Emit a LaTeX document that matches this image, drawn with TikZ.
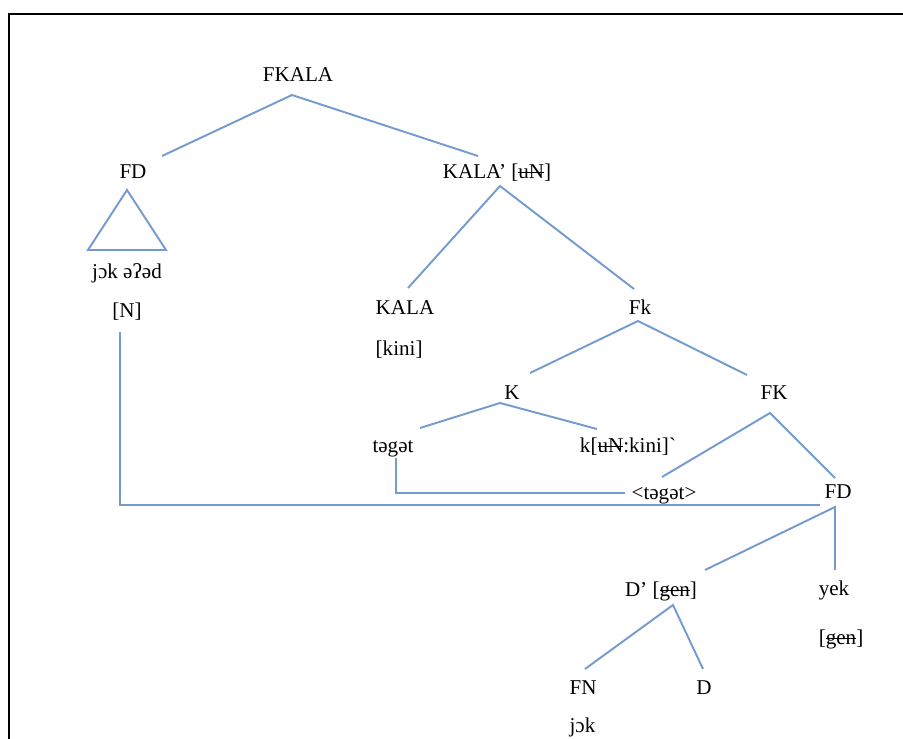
\documentclass[tikz,border=0pt]{standalone}
\usepackage{fontspec}
\setmainfont{Liberation Serif}
\usetikzlibrary{positioning}
\usetikzlibrary{calc}
\definecolor{branch}{RGB}{116,155,208}
\newcommand{\strk}[1]{\setbox0\hbox{#1}\rlap{\raisebox{0.28em}{\rule{\wd0}{0.55pt}}}\box0}
\begin{document}
\begin{tikzpicture}[x=0.02cm, y=-0.02cm,
        lbl/.style={font=\fontsize{12}{14}\selectfont, inner sep=4pt, text height=8pt, text depth=2.5pt},
        edge/.style={draw=branch, line width=1.1pt}]
        \useasboundingbox (0,0) rectangle (903,739);
        \clip (0,0) rectangle (903,739);
        \draw[line width=1.2pt] (9,760) -- (9,14) -- (920,14);

        \node[lbl] (fkala) at (298,77) {FKALA};
        \node[lbl] (fd) at (133,174) {FD};
        \node[lbl] (kalabar) at (497,174) {KALA’ [\strk{uN}]};
        \node[lbl] (jokead) at (127,274) {jɔk əʔəd};
        \node[lbl, below=3pt of jokead] (n) {[N]};
        \node[lbl] (kala) at (405,310) {KALA};
        \node[lbl, below right=4pt and 0pt of kala.south west] (kini) {[kini]};
        \node[lbl] (fk) at (640,310) {Fk};
        \node[lbl] (k) at (512,395) {K};
        \node[lbl] (fkk) at (774,395) {FK};
        \node[lbl] (tgt) at (393,448) {təgət};
        \node[lbl] (kcomp) at (628,448) {k[\strk{uN}:kini]\textasciigrave};
        \node[lbl] (tgttrace) at (664,495) {<təgət>};
        \node[lbl] (fdlow) at (838,494) {FD};
        \node[lbl] (dbar) at (661,592) {D’ [\strk{gen}]};
        \node[lbl] (yek) at (834,591) {yek};
        \node[lbl, below right=9pt and 0pt of yek.south west] (gen) {[\strk{gen}]};
        \node[lbl] (fn) at (583,690) {FN};
        \node[lbl] (d) at (704,690) {D};
        \node[lbl, below right=2.5pt and 0pt of fn.south west] (jok) {jɔk};

        % branches
        \draw[edge] ($(fd)+(29,-18)$) -- ($(fkala)+(-6,18)$) -- ($(kalabar)+(-19,-18)$);
        \draw[edge] ($(fd)+(-6,16)$) -- ++(-39,60) -- ++(78,0) -- cycle;
        \draw[edge] ($(kala)+(3,-22)$) -- ($(kalabar)+(3,12)$) -- ($(fk)+(-6,-21)$);
        \draw[edge] ($(k)+(18,-22)$) -- ($(fk)+(-2,11)$) -- ($(fkk)+(-27,-20)$);
        \draw[edge] ($(tgt)+(27,-20)$) -- ($(k)+(-12,8)$) -- ($(kcomp)+(-31,-19)$);
        \draw[edge] ($(tgttrace)+(-2,-18)$) -- ($(fkk)+(-4,18)$) -- ($(fdlow)+(-3,-16)$);
        \draw[edge] ($(dbar)+(44,-22)$) -- ($(fdlow)+(-3,13)$) -- ($(yek)+(1,-21)$);
        \draw[edge] ($(fn)+(2,-21)$) -- ($(dbar)+(12,13)$) -- ($(d)+(-1,-21)$);

        % movement lines
        \draw[edge] ($(tgt)+(3,10)$) |- ($(tgttrace)+(-39,-2)$);
        \draw[edge] ($(n)+(-7,20)$) |- ($(fdlow)+(-18,11)$);
\end{tikzpicture}
\end{document}
